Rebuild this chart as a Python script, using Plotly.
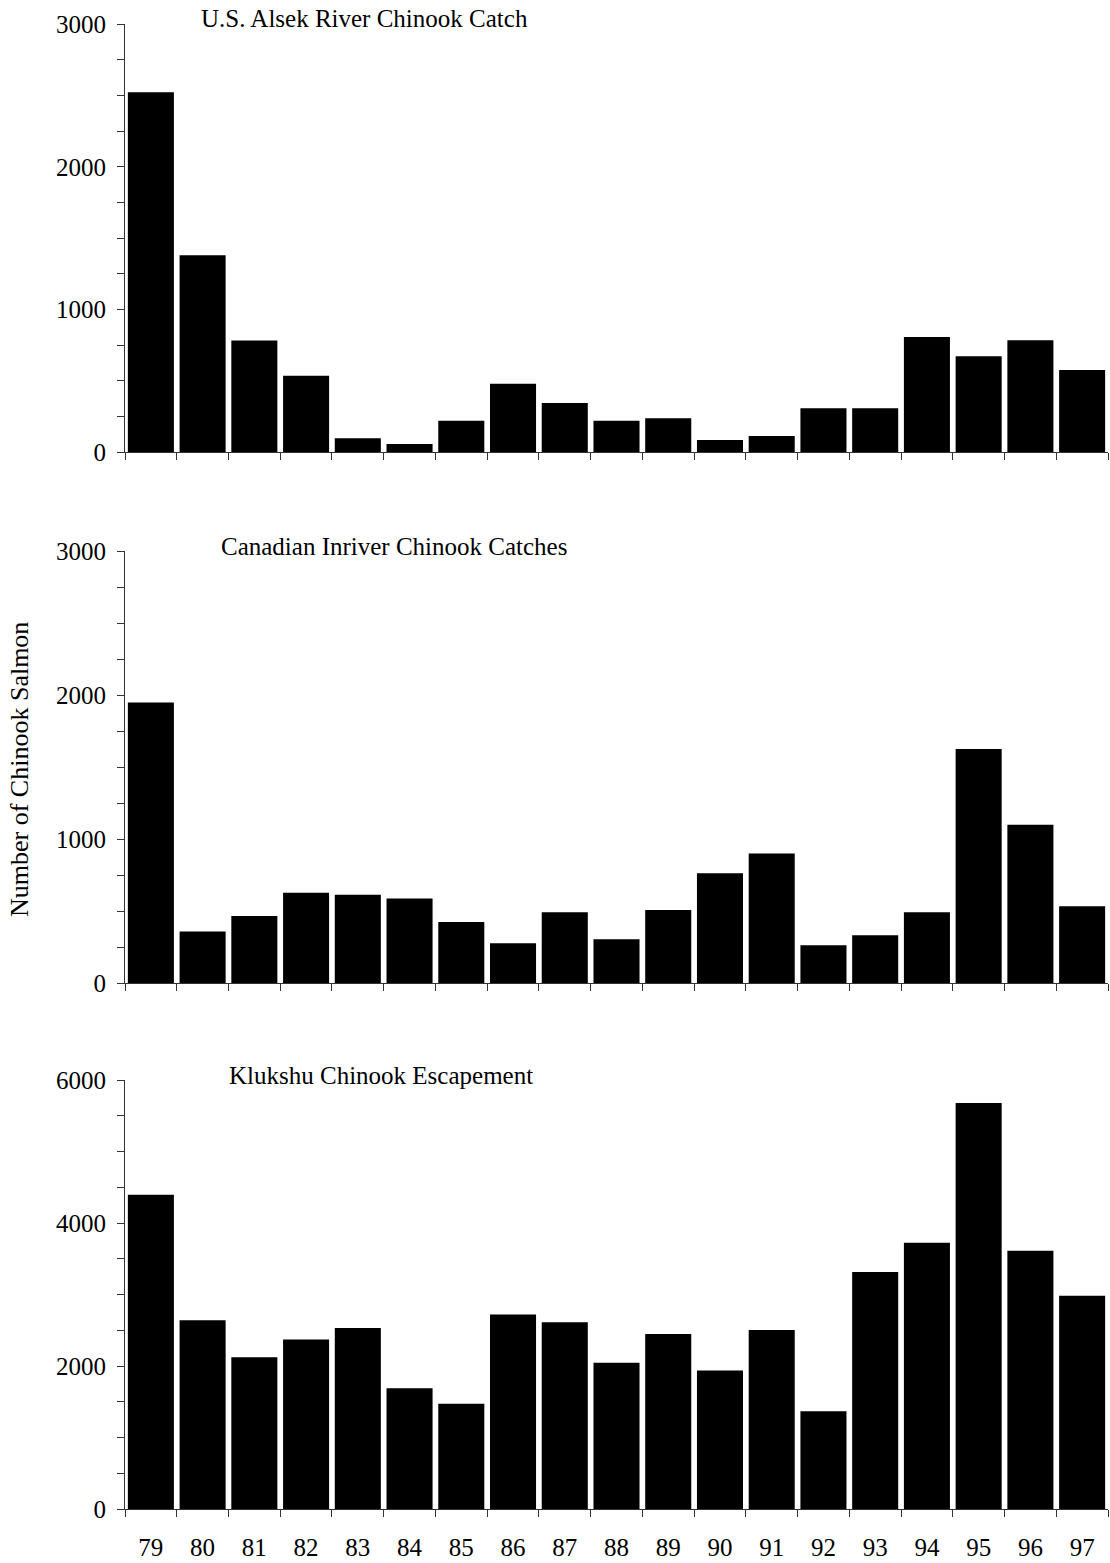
import plotly.graph_objects as go

years = ["79", "80", "81", "82", "83", "84", "85", "86", "87", "88",
         "89", "90", "91", "92", "93", "94", "95", "96", "97"]

us_alsek_catch = [2523, 1381, 783, 537, 98, 58, 222, 481, 346, 222,
                  238, 86, 114, 308, 308, 808, 673, 785, 577]

canadian_inriver_catch = [1948, 359, 467, 629, 615, 588, 426, 278, 493, 305,
                          509, 763, 900, 264, 333, 493, 1626, 1101, 534]

klukshu_escapement = [4395, 2642, 2126, 2372, 2535, 1693, 1474, 2721, 2614, 2047,
                      2451, 1940, 2507, 1372, 3316, 3726, 5679, 3614, 2986]

panel_titles = ["U.S. Alsek River Chinook Catch",
                "Canadian Inriver Chinook Catches",
                "Klukshu Chinook Escapement"]
y_title = "Number of Chinook Salmon"

W, H = 1110, 1563
FONT = "Liberation Serif, Times New Roman, serif"
AX = "#333333"
FS = 25


def px(X):
    return X / W


def py(Y):
    return 1 - Y / H


x_left, x_right = 125, 1108
panels = [  # (top px, bottom px, ymax, minor dtick, major dtick)
    (24.3, 452.3, 3000, 250, 1000),
    (551.0, 983.3, 3000, 250, 1000),
    (1080.0, 1509.3, 6000, 500, 2000),
]
series = [us_alsek_catch, canadian_inriver_catch, klukshu_escapement]

fig = go.Figure()
layout = dict(
    width=W, height=H,
    margin=dict(l=0, r=0, t=0, b=0, autoexpand=False),
    paper_bgcolor="white", plot_bgcolor="white",
    showlegend=False, bargap=0.11,
    font=dict(family=FONT, size=FS, color="black"),
)

for i, ((top, bot, ymax, mdt, dt), vals) in enumerate(zip(panels, series)):
    n = "" if i == 0 else str(i + 1)
    fig.add_trace(go.Bar(x=years, y=vals, xaxis="x" + n, yaxis="y" + n,
                         marker=dict(color="black", line=dict(width=0))))
    last = i == 2
    layout["xaxis" + n] = dict(
        domain=[px(x_left), px(x_right)], anchor="y" + n,
        type="category", range=[-0.5, len(years) - 0.5],
        showline=True, linecolor=AX, linewidth=1,
        ticks="outside", tickson="boundaries", ticklen=7, tickcolor=AX, tickwidth=1,
        showticklabels=last, showgrid=False, zeroline=False, automargin=False,
        ticklabelstandoff=16,
        tickfont=dict(family=FONT, size=FS, color="black"),
    )
    layout["yaxis" + n] = dict(
        domain=[py(bot), py(top)], anchor="x" + n,
        range=[0, ymax], tickvals=list(range(0, ymax + 1, dt)),
        showline=True, linecolor=AX, linewidth=1,
        ticks="outside", ticklen=7, tickcolor=AX, tickwidth=1,
        minor=dict(dtick=mdt, ticks="outside", ticklen=7, tickcolor=AX, tickwidth=1, showgrid=False),
        showgrid=False, zeroline=False, ticklabelstandoff=6, automargin=False,
        tickfont=dict(family=FONT, size=FS, color="black"),
    )

title_pos = [(364, 18.5), (394, 547), (381, 1075)]
annotations = []
for t, (cx, cy) in zip(panel_titles, title_pos):
    annotations.append(dict(text=t, x=px(cx), y=py(cy), xref="paper", yref="paper",
                            xanchor="center", yanchor="middle", showarrow=False,
                            borderpad=0,
                            font=dict(family=FONT, size=FS, color="black")))
annotations.append(dict(text=y_title, x=px(19), y=py(770), xref="paper", yref="paper",
                        xanchor="center", yanchor="middle", showarrow=False, textangle=-90,
                        borderpad=0,
                        font=dict(family=FONT, size=26, color="black")))
layout["annotations"] = annotations

fig.update_layout(**layout)
fig.write_html("out.html",
               config={"displayModeBar": False},
               post_script="document.body.style.margin='0';document.body.style.padding='0';")
